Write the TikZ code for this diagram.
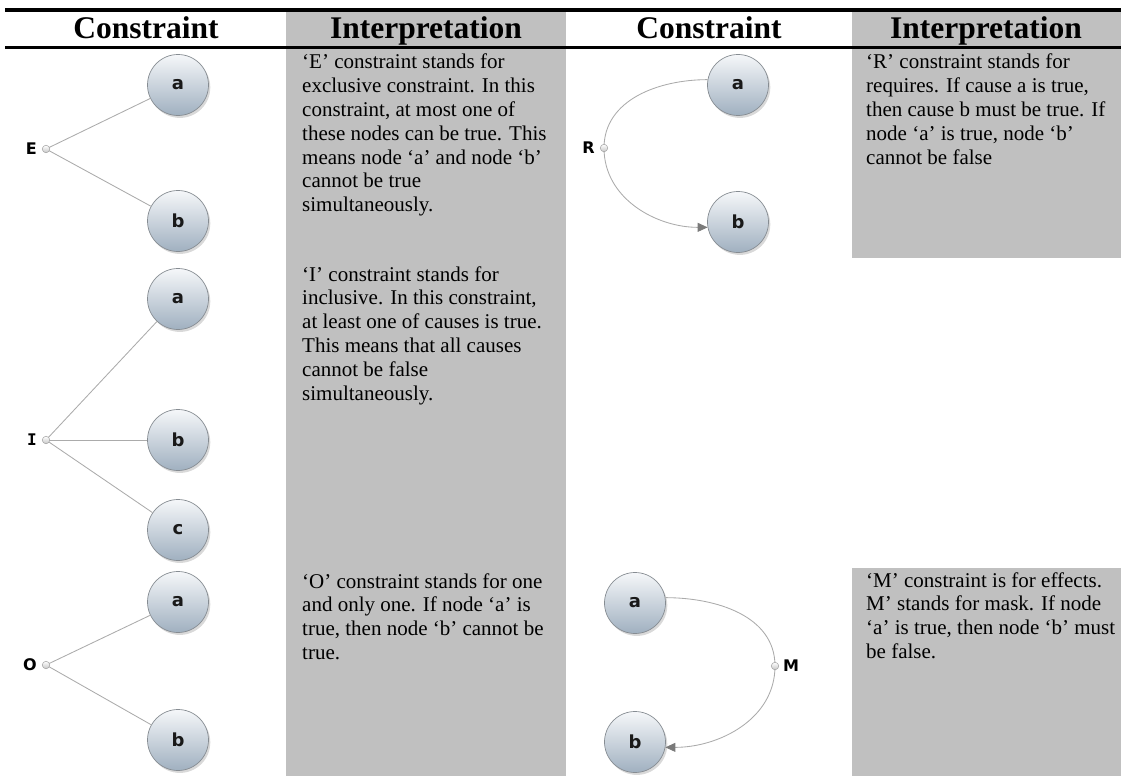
\documentclass[tikz,border=0pt]{standalone}
\usepackage{fontspec}
\setmainfont{Liberation Serif}
\newfontfamily\labelfont{DejaVu Sans}
\newfontfamily\slablabelfont{DejaVu Sans Mono}
\usetikzlibrary{shadows,arrows.meta}

\definecolor{panelgray}{HTML}{C0C0C0}
\definecolor{balltop}{HTML}{F5F7F9}
\definecolor{ballbottom}{HTML}{A0B0C0}
\definecolor{ballrim}{HTML}{868C92}
\definecolor{linkgray}{HTML}{ABABAB}
\definecolor{tipgray}{HTML}{7A7A7A}

\tikzset{
  cnode/.style={circle, minimum size=61pt, inner sep=0pt, draw=ballrim,
    line width=0.7pt, top color=balltop, bottom color=ballbottom,
    drop shadow={shadow xshift=1.8pt, shadow yshift=-2.4pt, opacity=0.3},
    text=black!90, font=\labelfont\bfseries\fontsize{18}{18}\selectfont},
  cdot/.style={circle, minimum size=7.5pt, inner sep=0pt, draw=gray!75,
    line width=0.5pt, top color=white, bottom color=gray!45},
  clabel/.style={inner sep=0pt, text=black,
    font=\labelfont\bfseries\fontsize{16}{16}\selectfont},
  link/.style={draw=linkgray, line width=0.85pt},
  tip/.style={-{Triangle[length=10pt,width=9pt,color=tipgray,fill=tipgray]},
    draw=linkgray, line width=0.85pt},
  hdr/.style={anchor=base, inner sep=0pt,
    font=\bfseries\fontsize{31.5}{31.5}\selectfont},
  body/.style={anchor=base west, inner sep=0pt,
    font=\fontsize{21}{23.8}\selectfont},
  rule/.style={line width=3.2pt, draw=black}
}

\newcommand{\bodytext}[1]{\parbox[t]{250pt}{\raggedright #1}}

\begin{document}
\begin{tikzpicture}[x=1pt, y=-1pt]
  \useasboundingbox (0,0) rectangle (1121,776);

  % shaded interpretation columns
  \fill[panelgray] (286,12) rectangle (566,776);
  \fill[panelgray] (852,12) rectangle (1121,258);
  \fill[panelgray] (852,568) rectangle (1121,776);

  % header rules
  \draw[rule] (5,10) -- (1121,10);
  \draw[rule, line width=3pt] (5,48) -- (1121,48);

  % headers
  \node[hdr] (h1) at (146,39) {Constraint};
  \node[hdr] (h2) at (426,39) {Interpretation};
  \node[hdr] (h3) at (709,39) {Constraint};
  \node[hdr] (h4) at (986,39) {Interpretation};

  % ---- E: exclusive ----
  \node[cnode] (Ea) at (178,85) {a};
  \node[cnode] (Eb) at (178,221) {b};
  \coordinate (Ec) at (46,149);
  \draw[link] (Ec) -- (Ea);
  \draw[link] (Ec) -- (Eb);
  \node[cdot] (Edot) at (Ec) {};
  \node[clabel, anchor=east] (Elab) at ([xshift=-5pt]Edot.west) {E};

  % ---- I: inclusive ----
  \node[cnode] (Ia) at (178,299) {a};
  \node[cnode] (Ib) at (178,440) {b};
  \node[cnode] (Ic) at (178,530) {c};
  \coordinate (Icc) at (46,440);
  \draw[link] (Icc) -- (Ia);
  \draw[link] (Icc) -- (Ib);
  \draw[link] (Icc) -- (Ic);
  \node[cdot] (Idot) at (Icc) {};
  \node[clabel, anchor=east, font=\slablabelfont\bfseries\fontsize{16}{16}\selectfont]
    (Ilab) at ([xshift=-5pt]Idot.west) {I};

  % ---- O: one and only one ----
  \node[cnode] (Oa) at (178,602) {a};
  \node[cnode] (Ob) at (178,740) {b};
  \coordinate (Oc) at (46,665);
  \draw[link] (Oc) -- (Oa);
  \draw[link] (Oc) -- (Ob);
  \node[cdot] (Odot) at (Oc) {};
  \node[clabel, anchor=east] (Olab) at ([xshift=-5pt]Odot.west) {O};

  % ---- R: requires ----
  \node[cnode] (Ra) at (738,85) {a};
  \node[cnode] (Rb) at (738,222) {b};
  \coordinate (Rc) at (604,148);
  \draw[link] (Ra.170) to[out=180, in=90] (Rc);
  \draw[tip] (Rc) to[out=-90, in=180] (Rb.190);
  \node[cdot] (Rdot) at (Rc) {};
  \node[clabel, anchor=east] (Rlab) at ([xshift=-5pt]Rdot.west) {R};

  % ---- M: mask ----
  \node[cnode] (Ma) at (635,603) {a};
  \node[cnode] (Mb) at (635,742) {b};
  \coordinate (Mc) at (775,666);
  \draw[link] (Ma.10) to[out=0, in=90] (Mc);
  \draw[tip] (Mc) to[out=-90, in=0] (Mb.-10);
  \node[cdot] (Mdot) at (Mc) {};
  \node[clabel, anchor=west] (Mlab) at ([xshift=4pt]Mdot.east) {M};

  % interpretations
  \node[body] (tE) at (302,69) {\bodytext{%
    ‘E’ constraint stands for\\ exclusive constraint. In this\\
    constraint, at most one of\\ these nodes can be true. This\\
    means node ‘a’ and node ‘b’\\ cannot be true\\ simultaneously.}};
  \node[body] (tI) at (302,281) {\bodytext{%
    ‘I’ constraint stands for\\ inclusive. In this constraint,\\
    at least one of causes is true.\\ This means that all causes\\
    cannot be false\\ simultaneously.}};
  \node[body] (tO) at (302,588) {\bodytext{%
    ‘O’ constraint stands for one\\ and only one. If node ‘a’ is\\
    true, then node ‘b’ cannot be\\ true.}};
  \node[body] (tR) at (866,69) {\bodytext{%
    ‘R’ constraint stands for\\ requires. If cause a is true,\\
    then cause b must be true. If\\ node ‘a’ is true, node ‘b’\\
    cannot be false}};
  \node[body] (tM) at (866,587) {\bodytext{%
    ‘M’ constraint is for effects.\\ M’ stands for mask. If node\\
    ‘a’ is true, then node ‘b’ must\\ be false.}};
\end{tikzpicture}
\end{document}
